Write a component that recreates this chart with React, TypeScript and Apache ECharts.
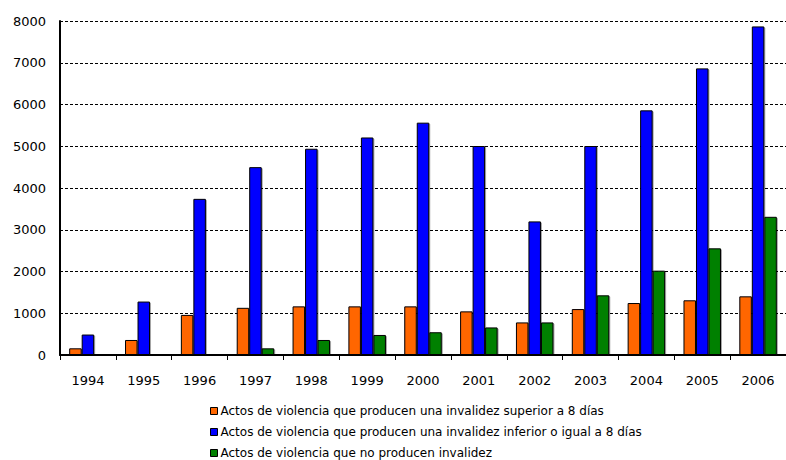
import React, { useEffect, useRef } from "react";
import * as echarts from "echarts";

const years = ["1994", "1995", "1996", "1997", "1998", "1999", "2000", "2001", "2002", "2003", "2004", "2005", "2006"];
const superior8 = [160, 360, 960, 1130, 1165, 1165, 1165, 1045, 780, 1100, 1245, 1310, 1405];
const inferior8 = [490, 1280, 3740, 4500, 4940, 5210, 5565, 5005, 3200, 5005, 5860, 6865, 7870];
const sinInvalidez = [0, 0, 0, 160, 360, 480, 545, 660, 780, 1430, 2020, 2555, 3310];
const seriesNames = [
  "Actos de violencia que producen una invalidez superior a 8 días",
  "Actos de violencia que producen una invalidez inferior o igual a 8 días",
  "Actos de violencia que no producen invalidez",
];
const colors = ["#FF6600", "#0000FF", "#008000"];

export default function App() {
  const ref = useRef<HTMLDivElement>(null);
  useEffect(() => {
    const chart = echarts.init(ref.current!, null, { renderer: "svg" });
    const font = "DejaVu Sans";
    const mk = (name: string, data: number[], color: string) => ({
      name,
      type: "bar",
      data,
      barWidth: 12.5,
      barGap: "0%",
      itemStyle: {
        color,
        borderColor: "#000",
        borderWidth: 1,
        shadowColor: "rgba(0,0,0,0.35)",
        shadowOffsetX: 1,
        shadowOffsetY: 1,
        shadowBlur: 1,
      },
    });
    chart.setOption({
      animation: false,
      backgroundColor: "#fff",
      grid: { left: 60, top: 21, width: 730, height: 334, containLabel: false },
      legend: {
        orient: "vertical",
        left: 210,
        top: 405,
        padding: 0,
        itemWidth: 7,
        itemHeight: 7,
        itemGap: 9,
        icon: "rect",
        itemStyle: { borderColor: "#000", borderWidth: 1 },
        textStyle: { fontFamily: font, fontSize: 12, color: "#000", lineHeight: 12, padding: [0, 0, 0, -2] },
        data: seriesNames,
      },
      xAxis: {
        type: "category",
        data: years,
        axisLine: { lineStyle: { color: "#000", width: 2 } },
        axisTick: { show: true, length: 5, lineStyle: { color: "#000", width: 1 } },
        axisLabel: { fontFamily: font, fontSize: 13, color: "#000", margin: 19 },
        splitLine: { show: false },
      },
      yAxis: {
        type: "value",
        min: 0,
        max: 8000,
        interval: 1000,
        axisLine: { show: true, lineStyle: { color: "#000", width: 2 } },
        axisTick: { show: false },
        axisLabel: { fontFamily: font, fontSize: 13, color: "#000", margin: 14, formatter: (v: number) => String(v) },
        splitLine: { show: true, lineStyle: { color: "#000", type: [3, 2], width: 1 } },
      },
      series: [
        mk(seriesNames[0], superior8, colors[0]),
        mk(seriesNames[1], inferior8, colors[1]),
        mk(seriesNames[2], sinInvalidez, colors[2]),
      ],
    });
    return () => chart.dispose();
  }, []);
  return <div ref={ref} style={{ width: 786, height: 460, position: "absolute", left: 0, top: 0 }} />;
}
